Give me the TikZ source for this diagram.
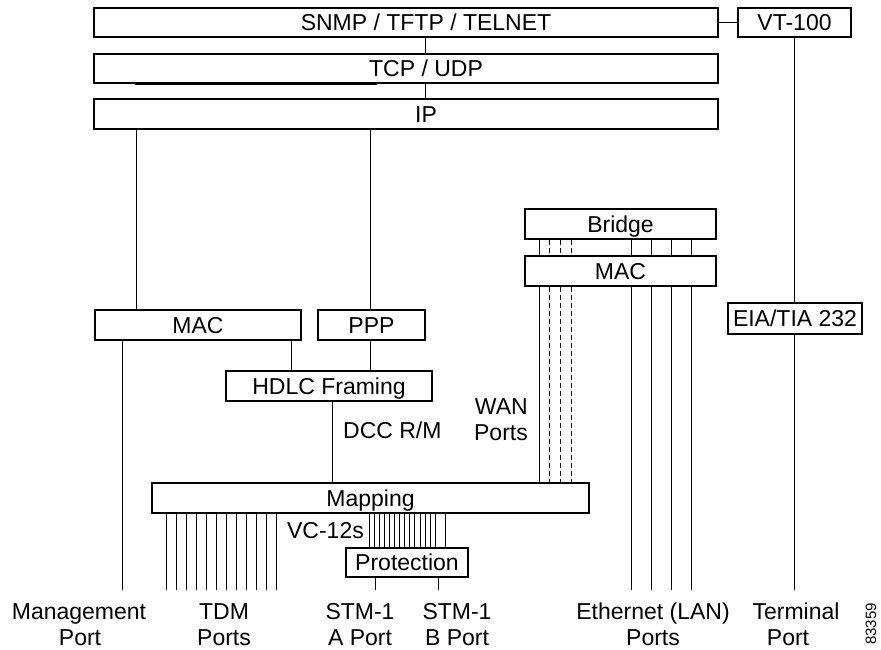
\documentclass[tikz,border=0pt]{standalone}
\usepackage{fontspec}
\setmainfont{Liberation Sans}
\begin{document}
\begin{tikzpicture}[x=1pt,y=-1pt,
  box/.style={draw, line width=1.1pt, inner sep=0pt, text height=16.5pt, text depth=0pt, font=\fontsize{23}{27}\selectfont},
  txt/.style={inner sep=0pt, font=\fontsize{23}{27}\selectfont},
  ln/.style={line width=0.9pt},
  dl/.style={line width=0.9pt, dash pattern=on 5pt off 3pt}]
\useasboundingbox (0,0) rectangle (881,650);
\coordinate (bot) at (0,590);
% top stack
\node[box, minimum width=624pt, minimum height=29pt] (snmp) at (406,22.5) {};
\node[txt, anchor=base] at (426,31) {SNMP / TFTP / TELNET};
\node[box, minimum width=113pt, minimum height=29pt] (vt) at (794.5,22.5) {VT-100};
\node[box, minimum width=624pt, minimum height=29pt] (tcp) at (406,68.5) {};
\node[txt, anchor=base] at (426,77) {TCP / UDP};
\node[box, minimum width=624pt, minimum height=30pt] (ip) at (406,114) {};
\node[txt, anchor=base] at (426,122.5) {IP};
\draw[line width=1.8pt] (135,83.8) -- (377,83.8);
% middle boxes
\node[box, minimum width=191pt, minimum height=30pt] (bridge) at (620.5,224) {Bridge};
\node[box, minimum width=191pt, minimum height=30pt] (mac2) at (620.5,271) {MAC};
\node[box, minimum width=206pt, minimum height=30pt] (mac1) at (198,325) {MAC};
\node[box, minimum width=107pt, minimum height=30pt] (ppp) at (371.5,325) {PPP};
\node[box, minimum width=206pt, minimum height=30pt] (hdlc) at (329,386) {HDLC Framing};
\node[box, minimum width=134pt, minimum height=31pt] (eia) at (795,318.5) {EIA/TIA 232};
\node[box, minimum width=437pt, minimum height=30pt] (map) at (370.5,498) {Mapping};
\node[box, minimum width=122pt, minimum height=29pt] (prot) at (407,562.5) {Protection};
% connectors top
\draw[ln] (snmp.east) -- (vt.west);
\draw[ln] (snmp.south -| 425,0) -- (tcp.north -| 425,0);
\draw[ln] (tcp.south -| 425,0) -- (ip.north -| 425,0);
\draw[ln] (ip.south -| 136,0) -- (mac1.north -| 136,0);
\draw[ln] (ip.south -| 370,0) -- (ppp.north -| 370,0);
\draw[ln] (mac1.south -| 291,0) -- (hdlc.north -| 291,0);
\draw[ln] (ppp.south -| 370,0) -- (hdlc.north -| 370,0);
\draw[ln] (mac1.south -| 122,0) -- (bot -| 122,0);
\draw[ln] (hdlc.south -| 332,0) -- (map.north -| 332,0);
\draw[ln] (vt.south -| 794,0) -- (eia.north -| 794,0);
\draw[ln] (eia.south -| 794,0) -- (bot -| 794,0);
% TDM ports
\foreach \k in {0,...,11}{
  \draw[ln] (map.south -| 166+10*\k,0) -- (bot -| 166+10*\k,0);
}
% VC-12s
\foreach \k in {0,...,13}{
  \draw[ln] (map.south -| 369+5.1*\k,0) -- (prot.north -| 369+5.1*\k,0);
}
\draw[ln] (map.south -| 445,0) -- (prot.north -| 445,0);
\draw[ln] (prot.south -| 375,0) -- (bot -| 375,0);
\draw[ln] (prot.south -| 438,0) -- (bot -| 438,0);
% bridge / mac
\foreach \x in {539,631,651,671,691}{
  \draw[ln] (bridge.south -| \x,0) -- (mac2.north -| \x,0);
}
\foreach \x in {549,560,571}{
  \draw[dl] (bridge.south -| \x,0) -- (mac2.north -| \x,0);
  \draw[dl] (mac2.south -| \x,0) -- (map.north -| \x,0);
}
\draw[ln] (mac2.south -| 539,0) -- (map.north -| 539,0);
\foreach \x in {631,651,671,691}{
  \draw[ln] (mac2.south -| \x,0) -- (bot -| \x,0);
}
% labels
\node[txt, anchor=base east] at (528,414) {WAN};
\node[txt, anchor=base east] at (528,440) {Ports};
\node[txt, anchor=base west] at (343,438) {DCC R/M};
\node[txt, anchor=base east] at (364,538) {VC-12s};
\node[txt, anchor=base] at (79,619) {Management};
\node[txt, anchor=base] at (80,645) {Port};
\node[txt, anchor=base] at (224,619) {TDM};
\node[txt, anchor=base] at (224,645) {Ports};
\node[txt, anchor=base] at (360,619) {STM-1};
\node[txt, anchor=base] at (360,645) {A Port};
\node[txt, anchor=base] at (457,619) {STM-1};
\node[txt, anchor=base] at (457,645) {B Port};
\node[txt, anchor=base] at (653,619) {Ethernet (LAN)};
\node[txt, anchor=base] at (653,645) {Ports};
\node[txt, anchor=base] at (796,619) {Terminal};
\node[txt, anchor=base] at (788,645) {Port};
\node[inner sep=0pt, font=\fontsize{15}{17}\selectfont, rotate=90] at (871,624) {83359};
\end{tikzpicture}
\end{document}
